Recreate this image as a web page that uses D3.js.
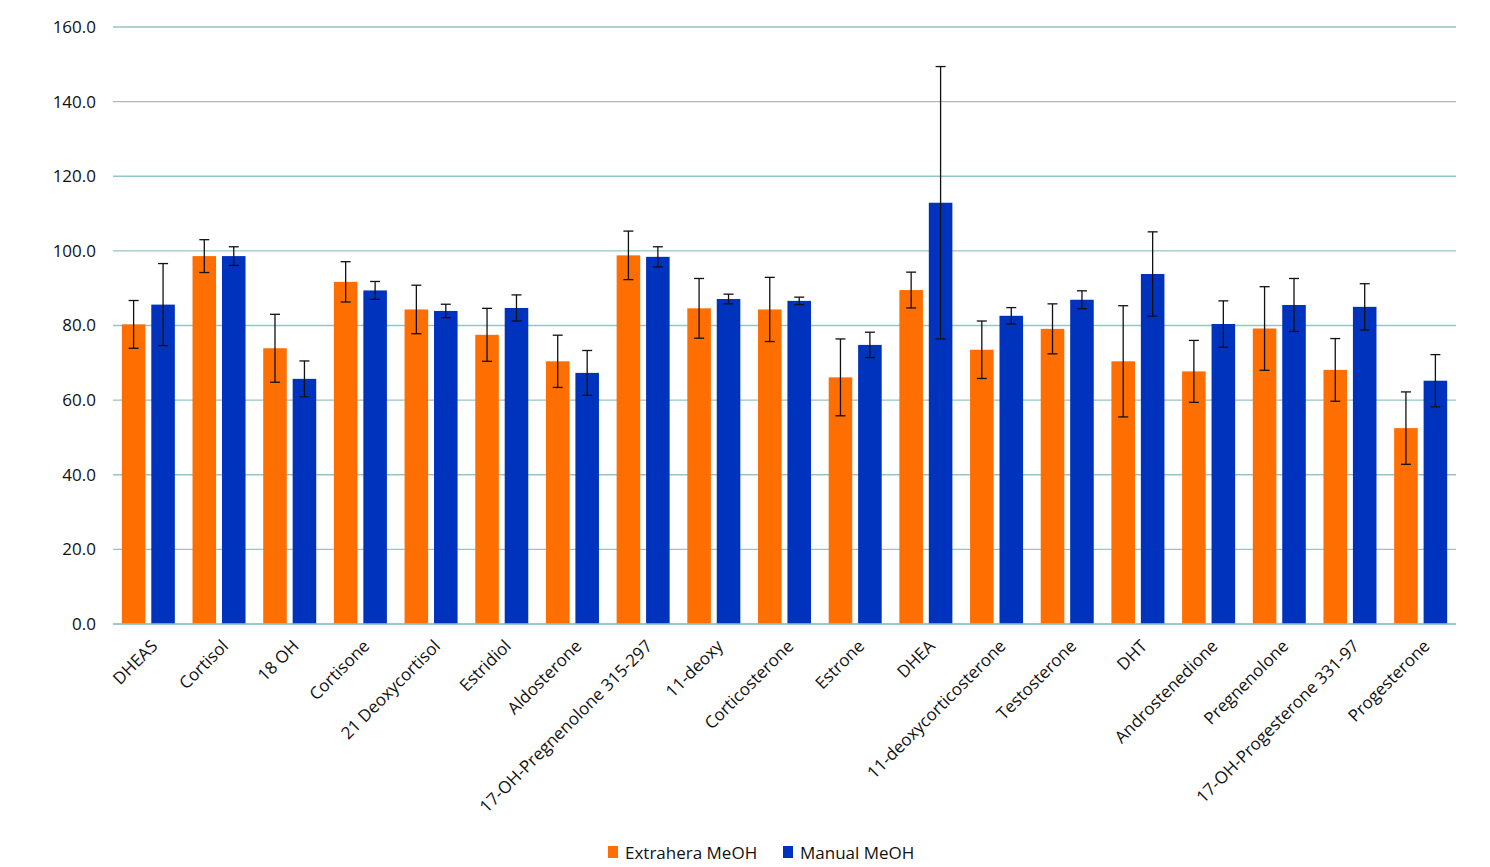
<!DOCTYPE html>
<html>
<head>
<meta charset="utf-8">
<script src="https://cdn.jsdelivr.net/npm/d3@7"></script>
<style>
  body { margin: 0; background: #fff; }
  text { font-family: "Open Sans", "Liberation Sans", sans-serif; fill: #111; }
</style>
</head>
<body>
<svg id="chart" width="1490" height="867"></svg>
<script>
// categories and series
var categories = ["DHEAS", "Cortisol", "18 OH", "Cortisone", "21 Deoxycortisol", "Estridiol",
    "Aldosterone", "17-OH-Pregnenolone 315-297", "11-deoxy", "Corticosterone", "Estrone", "DHEA",
    "11-deoxycorticosterone", "Testosterone", "DHT", "Androstenedione", "Pregnenolone",
    "17-OH-Progesterone 331-97", "Progesterone"];
var seriesNames = ["Extrahera MeOH", "Manual MeOH"];
var extrahera = [80.3, 98.6, 73.9, 91.7, 84.3, 77.5, 70.4, 98.8, 84.6, 84.3, 66.1, 89.5, 73.5, 79.1, 70.4, 67.7, 79.2, 68.1, 52.5];
var extraheraErr = [6.4, 4.4, 9.1, 5.4, 6.5, 7.1, 7.0, 6.5, 8.0, 8.6, 10.3, 4.8, 7.7, 6.7, 14.9, 8.3, 11.2, 8.4, 9.7];
var manual = [85.6, 98.6, 65.7, 89.4, 83.9, 84.7, 67.3, 98.4, 87.1, 86.6, 74.8, 112.9, 82.6, 86.9, 93.8, 80.4, 85.5, 85.0, 65.2];
var manualErr = [11.0, 2.5, 4.8, 2.4, 1.8, 3.5, 6.0, 2.7, 1.3, 1.0, 3.4, 36.5, 2.2, 2.4, 11.3, 6.2, 7.1, 6.2, 7.0];
var yTicks = [0, 20, 40, 60, 80, 100, 120, 140, 160];
var colors = ["#ff6e00", "#0033bd"];

var svg = d3.select("#chart"),
    margin = { top: 27, right: 34, bottom: 243, left: 113 },
    width = +svg.attr("width") - margin.left - margin.right,
    height = +svg.attr("height") - margin.top - margin.bottom;

var g = svg.append("g")
    .attr("transform", "translate(" + margin.left + "," + margin.top + ")");

var x0 = d3.scaleBand().domain(categories).range([0, width]).padding(0);
var x1 = d3.scaleBand().domain(seriesNames).range([0, x0.bandwidth()])
    .paddingInner(0.2).paddingOuter(0.3);
var y = d3.scaleLinear().domain([0, 160]).range([height, 0]);

var data = categories.map(function (c, i) {
    return {
        name: c,
        values: [
            { key: seriesNames[0], value: extrahera[i], err: extraheraErr[i], idx: 0 },
            { key: seriesNames[1], value: manual[i], err: manualErr[i], idx: 1 }
        ]
    };
});

// gridlines
g.append("g")
    .selectAll("line")
    .data(yTicks)
    .enter().append("line")
    .attr("x1", 0)
    .attr("x2", width)
    .attr("y1", function (d) { return y(d); })
    .attr("y2", function (d) { return y(d); })
    .attr("stroke", "#95c5c5")
    .attr("stroke-width", 1.3);

// y axis labels
var yAxis = g.append("g")
    .call(d3.axisLeft(y).tickValues(yTicks).tickFormat(d3.format(".1f")).tickSize(0).tickPadding(17));
yAxis.select(".domain").remove();
yAxis.selectAll("text")
    .style("font-size", "17px")
    .style("font-family", "'Open Sans', sans-serif")
    .attr("fill", "#111");

// groups and bars
var groups = g.selectAll(".group")
    .data(data)
    .enter().append("g")
    .attr("class", "group")
    .attr("transform", function (d) { return "translate(" + x0(d.name) + ",0)"; });

groups.selectAll(".bar")
    .data(function (d) { return d.values; })
    .enter().append("rect")
    .attr("class", "bar")
    .attr("x", function (d) { return x1(d.key); })
    .attr("width", x1.bandwidth())
    .attr("y", function (d) { return y(d.value); })
    .attr("height", function (d) { return height - y(d.value); })
    .attr("fill", function (d) { return colors[d.idx]; });

// error bars
var err = groups.selectAll(".err")
    .data(function (d) { return d.values; })
    .enter().append("g")
    .attr("class", "err")
    .attr("stroke", "#111")
    .attr("stroke-width", 1.3);

err.append("line")
    .attr("x1", function (d) { return x1(d.key) + x1.bandwidth() / 2; })
    .attr("x2", function (d) { return x1(d.key) + x1.bandwidth() / 2; })
    .attr("y1", function (d) { return y(d.value + d.err); })
    .attr("y2", function (d) { return y(d.value - d.err); });

[1, -1].forEach(function (s) {
    err.append("line")
        .attr("x1", function (d) { return x1(d.key) + x1.bandwidth() / 2 - 5; })
        .attr("x2", function (d) { return x1(d.key) + x1.bandwidth() / 2 + 5; })
        .attr("y1", function (d) { return y(d.value + s * d.err); })
        .attr("y2", function (d) { return y(d.value + s * d.err); });
});

// x axis line
g.append("line")
    .attr("x1", 0)
    .attr("x2", width)
    .attr("y1", height)
    .attr("y2", height)
    .attr("stroke", "#95c5c5")
    .attr("stroke-width", 1.5);

// x labels, rotated
g.selectAll(".xlabel")
    .data(categories)
    .enter().append("text")
    .attr("class", "xlabel")
    .attr("transform", function (d) {
        return "translate(" + (x0(d) + x0.bandwidth() / 2 + 6) + "," + (height + 19) + ") rotate(-45)";
    })
    .attr("text-anchor", "end")
    .attr("dy", "0.35em")
    .style("font-size", "17px")
    .text(function (d) { return d; });

// legend
var legend = svg.append("g")
    .attr("transform", "translate(608,846)");
var legendX = [0, 175];
seriesNames.forEach(function (name, i) {
    var item = legend.append("g").attr("transform", "translate(" + legendX[i] + ",0)");
    item.append("rect")
        .attr("width", 10)
        .attr("height", 12)
        .attr("fill", colors[i]);
    item.append("text")
        .attr("x", 17)
        .attr("y", 13)
        .style("font-size", "17px")
        .text(name);
});
</script>
</body>
</html>
